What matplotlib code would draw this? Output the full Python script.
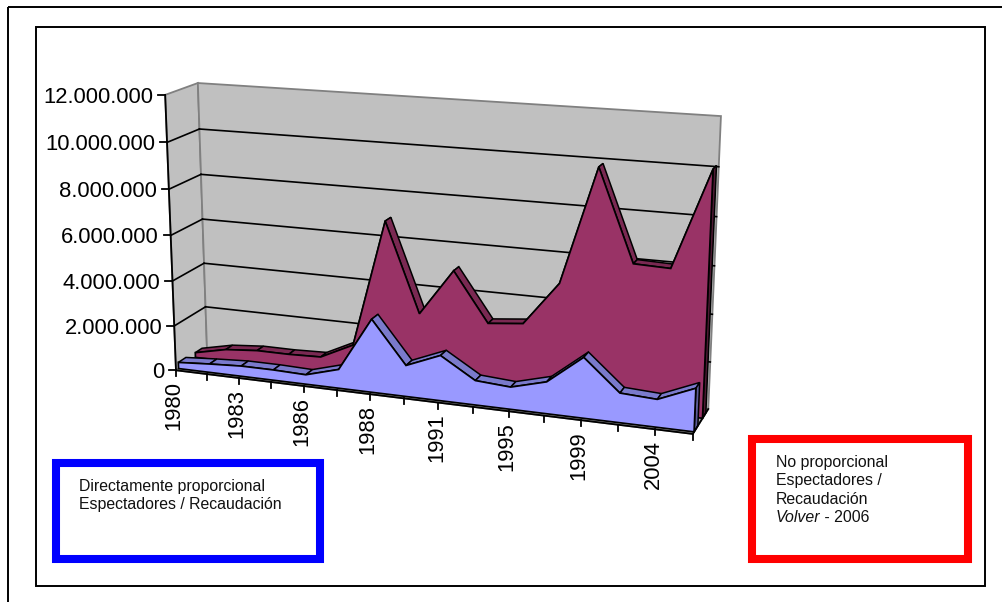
import numpy as np
import matplotlib
matplotlib.use("Agg")
import matplotlib.pyplot as plt
from matplotlib.patches import Polygon, Rectangle
from matplotlib.transforms import Transform

plt.rcParams['font.family'] = ['Liberation Sans', 'DejaVu Sans']

# ---- data (millions) ----
tick_labels = ['1980', '', '1983', '', '1986', '', '1988', '', '1991', '', '1995', '', '1999', '', '2004', '']
espectadores = [0.28, 0.38, 0.46, 0.46, 0.42, 0.83, 3.18, 1.35, 1.95, 1.05, 0.95, 1.35, 2.55, 1.24, 1.16, 1.8]
recaudacion = [0.22, 0.53, 0.65, 0.65, 0.7, 1.4, 6.95, 3.1, 5.1, 3.0, 3.15, 5.0, 9.9, 6.1, 6.05, 10.15]
value_ticks = [0, 2, 4, 6, 8, 10, 12]
value_labels = ['0', '2.000.000', '4.000.000', '6.000.000', '8.000.000', '10.000.000', '12.000.000']

# ---- perspective calibration: (category, value, depth) -> pixel ----
calib = [((0, 0, 0), (175, 371)), ((0, 12, 0), (166, 95)),
         ((0, 0, 1), (208, 349)), ((0, 12, 1), (197, 83)),
         ((15, 0, 1), (708, 410)), ((15, 12, 1), (721, 116)),
         ((15, 0, 0), (693, 433))]
A, b = [], []
for (c, v, d), (px, py) in calib:
    A.append([c, v, d, 1, 0, 0, 0, 0, -px * c, -px * v, -px * d])
    A.append([0, 0, 0, 0, c, v, d, 1, -py * c, -py * v, -py * d])
    b += [px, py]
sol = np.linalg.lstsq(np.array(A, float), np.array(b, float), rcond=None)[0]
P = np.append(sol, 1.0).reshape(3, 4)


class Plane(Transform):
    """Maps (category, value) at a fixed depth to pixel space."""
    input_dims = output_dims = 2

    def __init__(self, plane_depth):
        super().__init__()
        self.plane_depth = plane_depth

    def transform_non_affine(self, xy):
        xy = np.asarray(xy, float)
        h = np.c_[xy[:, 0], xy[:, 1], np.full(len(xy), self.plane_depth), np.ones(len(xy))]
        o = h @ P.T
        return o[:, :2] / o[:, 2:]


def project(c, v, d):
    return Plane(d).transform_non_affine(np.array([[c, v]], float))[0]


W, H = 1003, 602
fig = plt.figure(figsize=(W / 100, H / 100), dpi=100, facecolor='white')
ax = fig.add_axes([0, 0, 1, 1])
ax.set_xlim(0, W)
ax.set_ylim(H, 0)
ax.axis('off')

# frames
ax.add_patch(Rectangle((8, 6.5), 1100, 700, fill=False, ec='black', lw=1.4, zorder=1))
ax.add_patch(Rectangle((36.5, 27), 948.5, 559, fill=False, ec='black', lw=1.4, zorder=1))

n = len(tick_labels)
last = n - 1
top = value_ticks[-1]


def wall(points, fc='#C0C0C0', ec='#808080', z=2, lw=1.3):
    ax.add_patch(Polygon([project(*p) for p in points], closed=True, fc=fc, ec=ec, lw=lw, zorder=z))


wall([(0, 0, 0), (0, top, 0), (0, top, 1), (0, 0, 1)])
wall([(0, 0, 1), (0, top, 1), (last, top, 1), (last, 0, 1)])
wall([(0, 0, 0), (0, 0, 1), (last, 0, 1), (last, 0, 0)], fc='#A8A8A8')

for v in value_ticks[1:-1]:
    for seg in ([(0, v, 0), (0, v, 1)], [(0, v, 1), (last, v, 1)]):
        q = np.array([project(*p) for p in seg])
        ax.plot(q[:, 0], q[:, 1], color='black', lw=1.2, zorder=3)


def series(values, d0, d1, face, dark, end, z):
    cats = np.arange(len(values))
    front = Plane(d0)
    for i in range(len(values) - 1):
        pts = [project(i, values[i], d0), project(i + 1, values[i + 1], d0),
               project(i + 1, values[i + 1], d1), project(i, values[i], d1)]
        ax.add_patch(Polygon(pts, closed=True, fc=dark, ec='black', lw=1.1, zorder=z))
    pts = [project(last, values[-1], d0), project(last, 0, d0), project(last, 0, d1), project(last, values[-1], d1)]
    ax.add_patch(Polygon(pts, closed=True, fc=end, ec='black', lw=1.1, zorder=z))
    outline = list(zip(cats, values)) + [(last, 0), (0, 0)]
    ax.add_patch(Polygon(outline, closed=True, fc=face, ec='black', lw=1.25, zorder=z + 0.5,
                         transform=front + ax.transData))


series(recaudacion, 0.62, 0.84, '#993366', '#7A2952', '#4D1A33', 4)
series(espectadores, 0.08, 0.32, '#9999FF', '#7A7ACC', '#5C5C99', 5)

# axis lines, ticks, labels
q = np.array([project(0, 0, 0), project(0, top, 0)])
ax.plot(q[:, 0], q[:, 1], color='black', lw=1.3, zorder=7)
q = np.array([project(0, 0, 0), project(last, 0, 0), project(last, 0, 1)])
ax.plot(q[:, 0], q[:, 1], color='black', lw=1.3, zorder=7)

for v, lab in zip(value_ticks, value_labels):
    x, y = project(0, v, 0)
    ax.plot([x - 7, x], [y, y], color='black', lw=1.3, zorder=7)
    ax.text(x - 12, y, lab, ha='right', va='center_baseline', fontsize=15.8, color='black', zorder=8)

for i, lab in enumerate(tick_labels):
    x, y = project(i, 0, 0)
    ax.plot([x, x], [y, y + 6], color='black', lw=1.3, zorder=7)
    if lab:
        ax.text(x - 2, y + 11, lab, rotation=90, ha='center', va='top', fontsize=15.8, color='black', zorder=8)

# note boxes
ax.add_patch(Rectangle((56, 463), 264, 96, fc='white', ec='#0000FF', lw=5.8, joinstyle='miter', zorder=9))
ax.add_patch(Rectangle((752, 439), 216, 120, fc='white', ec='#FF0000', lw=5.8, joinstyle='miter', zorder=9))
fs = 11.4
ax.text(79, 487, 'Directamente proporcional', fontsize=fs, va='center', color='#111111', zorder=10)
ax.text(79, 505, 'Espectadores / Recaudación', fontsize=fs, va='center', color='#111111', zorder=10)
ax.text(776, 463, 'No proporcional', fontsize=fs, va='center', color='#111111', zorder=10)
ax.text(776, 481, 'Espectadores /', fontsize=fs, va='center', color='#111111', zorder=10)
ax.text(776, 499, 'Recaudación', fontsize=fs, va='center', color='#111111', zorder=10)
vt = ax.text(776, 517, 'Volver', fontsize=fs, va='center', style='italic', color='#111111', zorder=10)
ax.annotate(' - 2006', xy=(1, 0), xycoords=vt, va='bottom', fontsize=fs, color='#111111', zorder=10)

fig.savefig('out.png', dpi=100)
